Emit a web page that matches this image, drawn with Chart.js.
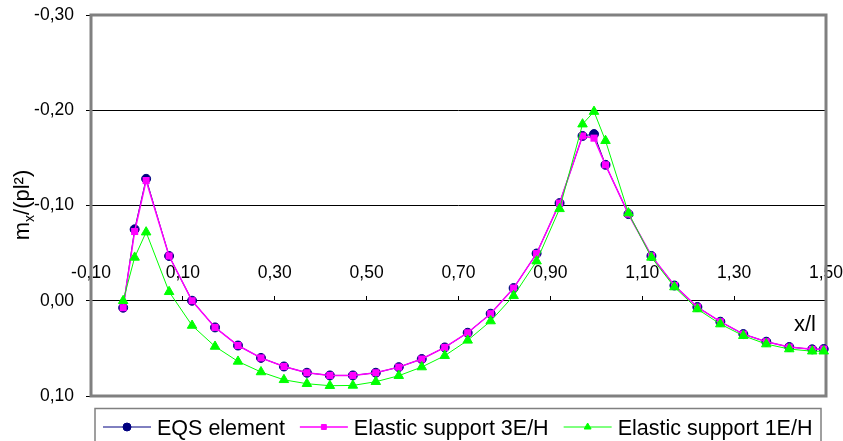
<!DOCTYPE html>
<html>
<head>
<meta charset="utf-8">
<script src="https://cdn.jsdelivr.net/npm/chart.js@4.4.1/dist/chart.umd.min.js"></script>
<style>
  html, body { margin: 0; padding: 0; background: #fff; }
  #chart { display: block; }
</style>
</head>
<body>
<canvas id="chart" width="843" height="441"></canvas>
<script>
// Bending moment along the beam.
const xPositions = [-0.03, -0.005, 0.02, 0.07, 0.12, 0.17, 0.22, 0.27, 0.32, 0.37, 0.42, 0.47,
  0.52, 0.57, 0.62, 0.67, 0.72, 0.77, 0.82, 0.87, 0.92, 0.97, 0.995, 1.02, 1.07, 1.12,
  1.17, 1.22, 1.27, 1.32, 1.37, 1.42, 1.47, 1.495];
const eqsElement = [0.0073, -0.075, -0.128, -0.047, 0.0, 0.028, 0.047, 0.060, 0.069, 0.0756, 0.0784, 0.0784,
  0.0756, 0.0697, 0.0612, 0.049, 0.0336, 0.0136, -0.0133, -0.0496, -0.1025, -0.173, -0.175, -0.1427, -0.091, -0.047,
  -0.016, 0.0066, 0.022, 0.035, 0.043, 0.0486, 0.051, 0.0507];
const elastic3EH = [0.0073, -0.0727, -0.1262, -0.047, 0.0, 0.028, 0.047, 0.060, 0.069, 0.0756, 0.0784, 0.0784,
  0.0756, 0.0697, 0.0612, 0.049, 0.0336, 0.0136, -0.0133, -0.0496, -0.1025, -0.173, -0.1707, -0.1427, -0.091, -0.047,
  -0.016, 0.0066, 0.022, 0.035, 0.043, 0.0486, 0.051, 0.0507];
const elastic1EH = [0.0, -0.0455, -0.072, -0.0094, 0.026, 0.048, 0.0637, 0.0748, 0.083, 0.0871, 0.0892, 0.0889,
  0.085, 0.0787, 0.0696, 0.0577, 0.0416, 0.0213, -0.0052, -0.0416, -0.0965, -0.1854, -0.1986, -0.168, -0.092, -0.0455,
  -0.0144, 0.0087, 0.0245, 0.0367, 0.0455, 0.0507, 0.053, 0.053];
const seriesNames = ['EQS element', 'Elastic support 3E/H', 'Elastic support 1E/H'];
const xTickValues = [-0.1, 0.1, 0.3, 0.5, 0.7, 0.9, 1.1, 1.3, 1.5];
const yTickValues = [-0.3, -0.2, -0.1, 0, 0.1];

const FONT = '"Liberation Sans", Arial, sans-serif';

function fmt(v) {
  const r = Math.round(v * 100) / 100;
  return (r === 0 ? 0 : r).toFixed(2).replace('.', ',');
}

function points(values) {
  return xPositions.map((x, i) => ({ x, y: values[i] }));
}

// gray frame round the plot area
const plotFrame = {
  id: 'plotFrame',
  beforeDatasetsDraw(chart) {
    const { ctx, chartArea: a } = chart;
    ctx.save();
    ctx.strokeStyle = '#808080';
    ctx.lineWidth = 3;
    ctx.strokeRect(a.left, a.top, a.right - a.left, a.bottom - a.top);
    ctx.restore();
  },
};

// axis titles: m_x/(pl²) with a real subscript, and x/l
const axisTitles = {
  id: 'axisTitles',
  afterDraw(chart) {
    const ctx = chart.ctx;
    ctx.save();
    ctx.fillStyle = '#000';
    ctx.textBaseline = 'alphabetic';
    ctx.textAlign = 'left';
    const big = '22px ' + FONT;
    const small = '14px ' + FONT;
    ctx.font = big;
    const wm = ctx.measureText('m').width;
    const wr = ctx.measureText('/(pl\u00b2)').width;
    ctx.font = small;
    const wx = ctx.measureText('x').width;
    const total = wm + wx + wr;
    ctx.translate(28.5, 205 + total / 2);
    ctx.rotate(-Math.PI / 2);
    ctx.font = big;
    ctx.fillText('m', 0, 0);
    ctx.font = small;
    ctx.fillText('x', wm, 5);
    ctx.font = big;
    ctx.fillText('/(pl\u00b2)', wm + wx, 0);
    ctx.restore();

    ctx.save();
    ctx.fillStyle = '#000';
    ctx.font = big;
    ctx.textAlign = 'right';
    ctx.textBaseline = 'alphabetic';
    ctx.fillText('x/l', 816, 331);
    ctx.restore();
  },
};

// boxed legend with line + marker samples, like the spreadsheet original
const boxedLegend = {
  id: 'boxedLegend',
  afterDraw(chart) {
    const ctx = chart.ctx;
    ctx.save();
    ctx.strokeStyle = '#808080';
    ctx.lineWidth = 1.5;
    ctx.strokeRect(95, 408.5, 726, 40);
    ctx.font = '21.5px ' + FONT;
    ctx.textBaseline = 'alphabetic';
    ctx.textAlign = 'left';
    let x = 103;
    const y = 427;
    chart.data.datasets.forEach((ds) => {
      ctx.strokeStyle = ds.borderColor;
      ctx.lineWidth = ds.borderWidth;
      ctx.beginPath();
      ctx.moveTo(x, y);
      ctx.lineTo(x + 48, y);
      ctx.stroke();
      ctx.fillStyle = ds.pointBackgroundColor;
      ctx.strokeStyle = ds.pointBorderColor;
      ctx.lineWidth = 1;
      Chart.helpers.drawPoint(ctx, { pointStyle: ds.pointStyle, radius: ds.legendRadius, borderWidth: 1, rotation: 0 }, x + 24, y);
      ctx.fillStyle = '#000';
      ctx.fillText(ds.label, x + 54, 434.5);
      x += 54 + ctx.measureText(ds.label).width + 15;
    });
    ctx.restore();
  },
};

new Chart(document.getElementById('chart'), {
  type: 'scatter',
  data: {
    datasets: [
      {
        label: seriesNames[0],
        data: points(eqsElement),
        showLine: true,
        borderColor: '#000080',
        borderWidth: 1,
        pointStyle: 'circle',
        pointRadius: 4.5,
        pointBackgroundColor: '#000080',
        pointBorderColor: '#000080',
        pointBorderWidth: 1,
        legendRadius: 4,
        order: 3,
        clip: false,
      },
      {
        label: seriesNames[1],
        data: points(elastic3EH),
        showLine: true,
        borderColor: '#FF00FF',
        borderWidth: 1.5,
        pointStyle: 'rect',
        pointRadius: 5,
        pointBackgroundColor: '#FF00FF',
        pointBorderColor: '#FF00FF',
        pointBorderWidth: 0,
        legendRadius: 3.5,
        order: 2,
        clip: false,
      },
      {
        label: seriesNames[2],
        data: points(elastic1EH),
        showLine: true,
        borderColor: '#00FF00',
        borderWidth: 1,
        pointStyle: 'triangle',
        pointRadius: 5.5,
        pointBackgroundColor: '#00FF00',
        pointBorderColor: '#00FF00',
        pointBorderWidth: 1,
        legendRadius: 4,
        order: 1,
        clip: false,
      },
    ],
  },
  options: {
    responsive: false,
    devicePixelRatio: 1,
    animation: false,
    layout: { padding: { left: 0, right: 17, top: 15, bottom: 45 } },
    plugins: {
      legend: { display: false },
      tooltip: { enabled: false },
    },
    elements: { line: { tension: 0 } },
    scales: {
      x: {
        type: 'linear',
        position: { y: 0 },
        min: -0.1,
        max: 1.5,
        afterBuildTicks: (scale) => {
          scale.ticks = xTickValues.map((v) => ({ value: v }));
        },
        ticks: {
          callback: (v) => fmt(v),
          color: '#000',
          font: { family: FONT, size: 17.5 },
          padding: -33,
          maxRotation: 0,
          autoSkip: false,
        },
        grid: {
          drawOnChartArea: false,
          drawTicks: true,
          tickLength: -5,
          tickColor: '#000',
        },
        border: { display: true, color: '#000', width: 1 },
      },
      y: {
        type: 'linear',
        position: 'left',
        reverse: true,
        min: -0.3,
        max: 0.1,
        afterBuildTicks: (scale) => {
          scale.ticks = yTickValues.map((v) => ({ value: v }));
        },
        afterFit: (scale) => {
          scale.width = 91;
          scale.paddingTop = 0;
          scale.paddingBottom = 0;
        },
        ticks: {
          callback: (v) => fmt(v),
          color: '#000',
          font: { family: FONT, size: 17.5 },
          padding: 12,
        },
        grid: {
          color: (c) => (c.tick && (c.tick.value === -0.3 || c.tick.value === 0.1) ? 'rgba(0,0,0,0)' : '#000'),
          lineWidth: 1,
          tickLength: 5,
          tickColor: '#000',
        },
        border: { display: false },
      },
    },
  },
  plugins: [plotFrame, axisTitles, boxedLegend],
});
</script>
</body>
</html>
